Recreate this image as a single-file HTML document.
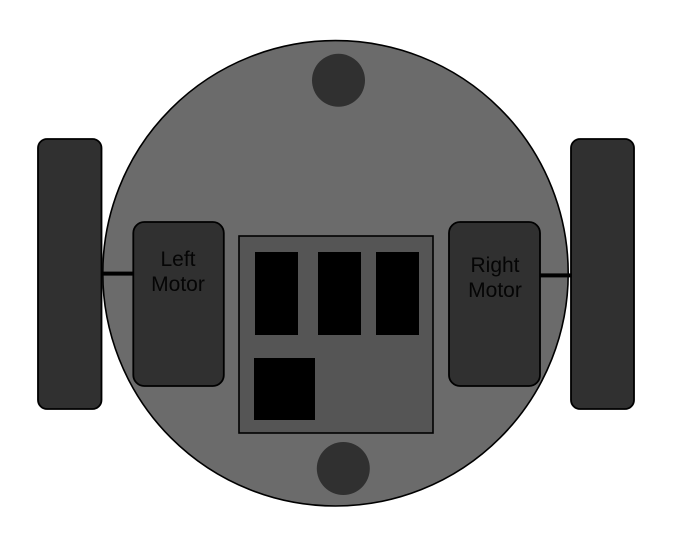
<!DOCTYPE html>
<html lang="en">
<head>
<meta charset="utf-8">
<title>Robot layout</title>
<style>
html,body{margin:0;padding:0;background:#fff;width:678px;height:547px;overflow:hidden}
svg{display:block}
text{font-family:"Liberation Sans",sans-serif;font-size:21px;fill:#050505;text-anchor:middle}
</style>
</head>
<body>
<svg width="678" height="547" viewBox="0 0 678 547">
<rect x="0" y="0" width="678" height="547" fill="#fff"/>
<circle cx="335.5" cy="273.3" r="232.7" fill="#6b6b6b" stroke="#000" stroke-width="1.6"/>
<rect x="38" y="139" width="63.5" height="270" rx="9" ry="9" fill="#303030" stroke="#000" stroke-width="1.8"/>
<rect x="571" y="139" width="63" height="270" rx="9" ry="9" fill="#303030" stroke="#000" stroke-width="1.8"/>
<rect x="101" y="271.6" width="33" height="4" fill="#000"/>
<rect x="539" y="273.4" width="33" height="4" fill="#000"/>
<rect x="133.3" y="222" width="90.5" height="164" rx="11" ry="11" fill="#303030" stroke="#000" stroke-width="1.8"/>
<rect x="449" y="222" width="91" height="164" rx="11" ry="11" fill="#303030" stroke="#000" stroke-width="1.8"/>
<text x="178" y="266">Left</text>
<text x="178" y="291">Motor</text>
<text x="495" y="272">Right</text>
<text x="495" y="297">Motor</text>
<rect x="239" y="236" width="194" height="197" fill="#555" stroke="#000" stroke-width="1.6"/>
<rect x="255" y="252" width="43" height="83" fill="#000"/>
<rect x="318" y="252" width="43" height="83" fill="#000"/>
<rect x="376" y="252" width="43" height="83" fill="#000"/>
<rect x="254" y="358" width="61" height="62" fill="#000"/>
<circle cx="338.5" cy="80.3" r="26.5" fill="#303030"/>
<circle cx="343.3" cy="468.5" r="26.5" fill="#303030"/>
</svg>
</body>
</html>
